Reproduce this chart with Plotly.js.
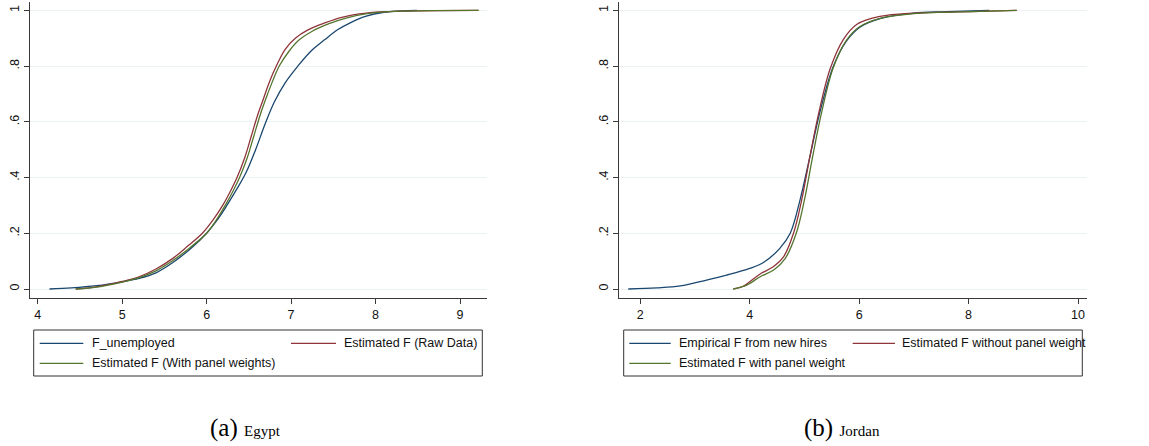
<!DOCTYPE html>
<html>
<head>
<meta charset="utf-8">
<script src="https://cdn.plot.ly/plotly-3.0.1.min.js"></script>
<style>html,body{margin:0;padding:0;background:#fff;}#chart{width:1149px;height:446px;}</style>
</head>
<body>
<div id="chart"></div>
<script>
// ---------- Data: Egypt ----------
const egyptUnempX = [4.14, 4.4, 4.7, 5.0, 5.2, 5.4, 5.6, 5.83, 6.0, 6.12, 6.24, 6.36, 6.47, 6.58, 6.69, 6.8, 6.93, 7.08, 7.24, 7.4, 7.55, 7.7, 7.88, 8.1, 8.3, 8.49];
const egyptUnempY = [0, 0.004, 0.012, 0.026, 0.038, 0.058, 0.095, 0.15, 0.20, 0.245, 0.30, 0.36, 0.42, 0.50, 0.59, 0.67, 0.74, 0.80, 0.855, 0.895, 0.93, 0.955, 0.978, 0.993, 0.998, 1.0];
const egyptRawX = [4.45, 4.7, 5.0, 5.2, 5.4, 5.6, 5.78, 5.95, 6.07, 6.19, 6.28, 6.36, 6.45, 6.53, 6.6, 6.67, 6.74, 6.81, 6.93, 7.05, 7.2, 7.4, 7.6, 7.89, 8.3, 9.22];
const egyptRawY = [0, 0.008, 0.027, 0.044, 0.072, 0.11, 0.155, 0.20, 0.245, 0.30, 0.35, 0.40, 0.47, 0.55, 0.62, 0.68, 0.74, 0.79, 0.86, 0.90, 0.93, 0.955, 0.975, 0.99, 0.997, 1.0];
const egyptPanelX = [4.45, 4.7, 5.0, 5.2, 5.4, 5.6, 5.81, 6.0, 6.11, 6.22, 6.31, 6.39, 6.48, 6.56, 6.64, 6.71, 6.78, 6.86, 6.98, 7.1, 7.25, 7.45, 7.65, 7.9, 8.3, 9.22];
const egyptPanelY = [0, 0.007, 0.025, 0.041, 0.065, 0.102, 0.15, 0.20, 0.245, 0.30, 0.35, 0.40, 0.47, 0.55, 0.63, 0.69, 0.745, 0.80, 0.855, 0.895, 0.925, 0.952, 0.972, 0.988, 0.997, 1.0];

// ---------- Data: Jordan ----------
const jordanHiresX = [1.78, 2.3, 2.73, 3.21, 3.58, 4.0, 4.25, 4.55, 4.74, 4.92, 5.10, 5.29, 5.53, 5.77, 6.02, 6.38, 6.99, 7.6, 8.38];
const jordanHiresY = [0, 0.004, 0.011, 0.032, 0.05, 0.074, 0.095, 0.146, 0.20, 0.32, 0.475, 0.64, 0.80, 0.89, 0.94, 0.97, 0.99, 0.995, 1.0];
const jordanNoWX = [3.70, 3.88, 4.0, 4.19, 4.43, 4.62, 4.80, 4.95, 5.10, 5.26, 5.47, 5.71, 5.96, 6.38, 6.99, 8.2, 8.88];
const jordanNoWY = [0, 0.01, 0.026, 0.054, 0.08, 0.116, 0.20, 0.32, 0.475, 0.63, 0.79, 0.895, 0.95, 0.978, 0.99, 0.996, 1.0];
const jordanWX = [3.70, 3.9, 4.0, 4.2, 4.45, 4.65, 4.85, 5.0, 5.15, 5.31, 5.52, 5.76, 6.0, 6.4, 7.0, 8.2, 8.88];
const jordanWY = [0, 0.01, 0.02, 0.045, 0.07, 0.11, 0.20, 0.32, 0.475, 0.63, 0.79, 0.89, 0.94, 0.972, 0.988, 0.996, 1.0];

// ---------- Labels ----------
const egyptNames = ["F_unemployed", "Estimated F (Raw Data)", "Estimated F (With panel weights)"];
const jordanNames = ["Empirical F from new hires", "Estimated F without panel weight", "Estimated F with panel weight"];
const seriesColors = ["#1a476f", "#90353b", "#55752f"];
const yTickVals = [0, 0.2, 0.4, 0.6, 0.8, 1];
const yTickText = ["0", ".2", ".4", ".6", ".8", "1"];
const egyptXTicks = [4, 5, 6, 7, 8, 9];
const jordanXTicks = [2, 4, 6, 8, 10];
const captions = ["(a)", "Egypt", "(b)", "Jordan"];

const W = 1149, H = 446;
const px = v => v / W;
const py = v => 1 - v / H;

const mk = (x, y, name, color, xa, ya) => ({
  type: 'scatter', mode: 'lines', x: x, y: y, name: name,
  xaxis: xa, yaxis: ya, showlegend: false,
  line: {color: color, width: 1.3, shape: 'spline', smoothing: 1},
  hoverinfo: 'skip'
});

const traces = [
  mk(egyptUnempX, egyptUnempY, egyptNames[0], seriesColors[0], 'x', 'y'),
  mk(egyptRawX, egyptRawY, egyptNames[1], seriesColors[1], 'x', 'y'),
  mk(egyptPanelX, egyptPanelY, egyptNames[2], seriesColors[2], 'x', 'y'),
  mk(jordanHiresX, jordanHiresY, jordanNames[0], seriesColors[0], 'x2', 'y2'),
  mk(jordanNoWX, jordanNoWY, jordanNames[1], seriesColors[1], 'x2', 'y2'),
  mk(jordanWX, jordanWY, jordanNames[2], seriesColors[2], 'x2', 'y2')
];

const tickFont = {family: 'Liberation Sans, Arial, Helvetica, sans-serif', size: 12.5, color: '#111'};
const axisLine = '#3a3a3a';

const xBase = {
  showgrid: false, zeroline: false, showline: true, linecolor: axisLine, linewidth: 1,
  ticks: 'outside', ticklen: 5, tickcolor: axisLine, tickwidth: 1, tickfont: tickFont,
  tickmode: 'array', fixedrange: true
};
const yBase = {
  showgrid: true, gridcolor: '#eaf2f3', gridwidth: 1, zeroline: false, showline: true,
  linecolor: axisLine, linewidth: 1, ticks: 'outside', ticklen: 5, tickcolor: axisLine, tickwidth: 1,
  tickfont: tickFont, tickmode: 'array', tickvals: yTickVals, ticktext: yTickText, tickangle: -90,
  range: [-0.0312, 1.0298], domain: [0.3325, 0.9955], ticklabelstandoff: 0, fixedrange: true
};

// Manual legends (two columns like Stata)
const shapes = [];
const annotations = [];
const legFont = {family: 'Liberation Sans, Arial, Helvetica, sans-serif', size: 12.5, color: '#111'};
function addLegend(names, box, cols) {
  shapes.push({type: 'rect', xref: 'paper', yref: 'paper', x0: px(box[0]), x1: px(box[1]), y0: py(box[3]), y1: py(box[2]),
    line: {color: '#333', width: 1}, fillcolor: 'rgba(0,0,0,0)'});
  const rows = [343.3, 363.3];
  const slots = [[0, 0], [1, 0], [0, 1]];
  names.forEach((nm, i) => {
    const c = cols[slots[i][0]];
    const r = rows[slots[i][1]];
    shapes.push({type: 'line', xref: 'paper', yref: 'paper', x0: px(c[0]), x1: px(c[1]), y0: py(r), y1: py(r),
      line: {color: seriesColors[i], width: 1.3}});
    annotations.push({xref: 'paper', yref: 'paper', x: px(c[2] - 2), y: py(r), xanchor: 'left', yanchor: 'middle',
      text: nm, showarrow: false, font: legFont});
  });
}
addLegend(egyptNames, [33.7, 482.3, 330, 376], [[39.7, 83.3, 92], [291, 336, 344]]);
addLegend(jordanNames, [623.7, 1082.3, 330, 376], [[629.3, 670.7, 679], [852.7, 895, 902.3]]);

// Captions
const capFont = {family: 'Liberation Serif, DejaVu Serif, serif', size: 25, color: '#000'};
annotations.push({xref: 'paper', yref: 'paper', x: px(246), y: py(428), xanchor: 'center', yanchor: 'middle', showarrow: false,
  text: captions[0] + '&nbsp;<span style="font-size:15px">' + captions[1] + '</span>', font: capFont});
annotations.push({xref: 'paper', yref: 'paper', x: px(842), y: py(428), xanchor: 'center', yanchor: 'middle', showarrow: false,
  text: captions[2] + '&nbsp;<span style="font-size:15px">' + captions[3] + '</span>', font: capFont});

const layout = {
  width: W, height: H,
  margin: {l: 0, r: 0, t: 0, b: 0, pad: 0},
  paper_bgcolor: '#fff', plot_bgcolor: '#fff',
  showlegend: false,
  xaxis: Object.assign({}, xBase, {domain: [30 / W, 486.7 / W], range: [3.909, 9.316], tickvals: egyptXTicks, anchor: 'y'}),
  yaxis: Object.assign({}, yBase, {anchor: 'x'}),
  xaxis2: Object.assign({}, xBase, {domain: [619.3 / W, 1086.7 / W], range: [1.616, 10.159], tickvals: jordanXTicks, anchor: 'y2'}),
  yaxis2: Object.assign({}, yBase, {anchor: 'x2'}),
  shapes: shapes,
  annotations: annotations
};

Plotly.newPlot('chart', traces, layout, {staticPlot: true, displayModeBar: false});
</script>
</body>
</html>
